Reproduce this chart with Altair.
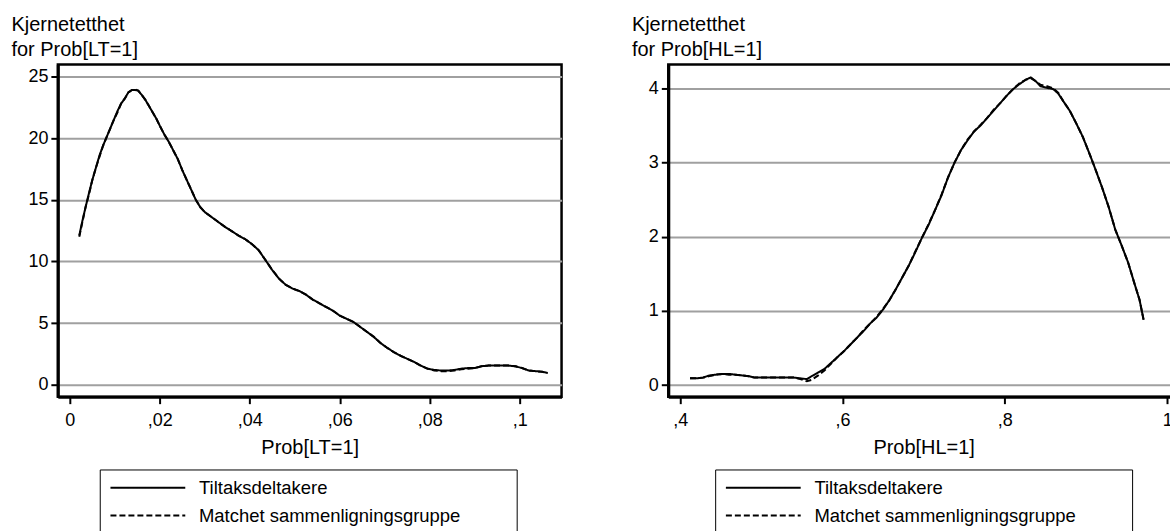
import altair as alt
import pandas as pd

FONT = "Liberation Sans"

series_names = ["Tiltaksdeltakere", "Matchet sammenligningsgruppe"]

# Kernel density of the propensity score Prob[LT=1]
lt_x = [0.0021, 0.0028, 0.0035, 0.0043, 0.0050, 0.0058, 0.0066, 0.0074, 0.0082, 0.0090,
        0.0098, 0.0106, 0.0114, 0.0122, 0.0130, 0.0138, 0.0146, 0.0152, 0.0160, 0.0168,
        0.0176, 0.0184, 0.0192, 0.0200, 0.0210, 0.0220, 0.0230, 0.0240, 0.0250, 0.0260,
        0.0270, 0.0280, 0.0290, 0.0300, 0.0315, 0.0330, 0.0345, 0.0360, 0.0375, 0.0390,
        0.0405, 0.0420, 0.0435, 0.0450, 0.0465, 0.0480, 0.0495, 0.0510, 0.0525, 0.0540,
        0.0555, 0.0570, 0.0585, 0.0600, 0.0615, 0.0630, 0.0645, 0.0660, 0.0675, 0.0690,
        0.0705, 0.0720, 0.0735, 0.0750, 0.0765, 0.0780, 0.0795, 0.0810, 0.0825, 0.0840,
        0.0855, 0.0870, 0.0885, 0.0900, 0.0915, 0.0930, 0.0945, 0.0960, 0.0975, 0.0990,
        0.1005, 0.1020, 0.1035, 0.1050, 0.1062]
lt_treated = [12.1, 13.3, 14.4, 15.6, 16.6, 17.6, 18.6, 19.4, 20.1, 20.8,
              21.5, 22.2, 22.8, 23.2, 23.7, 23.9, 23.9, 23.85, 23.5, 23.1,
              22.6, 22.1, 21.6, 21.0, 20.3, 19.7, 19.0, 18.3, 17.4, 16.6,
              15.8, 15.0, 14.4, 14.0, 13.6, 13.2, 12.8, 12.45, 12.1, 11.8,
              11.4, 10.9, 10.1, 9.3, 8.6, 8.1, 7.8, 7.6, 7.3, 6.9,
              6.6, 6.3, 6.0, 5.6, 5.35, 5.1, 4.7, 4.3, 3.9, 3.4,
              3.0, 2.65, 2.35, 2.1, 1.85, 1.55, 1.3, 1.2, 1.15, 1.15,
              1.2, 1.3, 1.35, 1.35, 1.5, 1.55, 1.55, 1.55, 1.55, 1.5,
              1.35, 1.15, 1.1, 1.05, 0.95]
lt_matched = [12.0, 13.2, 14.4, 15.5, 16.6, 17.6, 18.5, 19.4, 20.1, 20.8,
              21.5, 22.1, 22.8, 23.2, 23.7, 23.9, 23.95, 23.85, 23.5, 23.1,
              22.6, 22.1, 21.6, 21.0, 20.3, 19.7, 19.0, 18.3, 17.4, 16.6,
              15.8, 15.0, 14.4, 14.0, 13.6, 13.2, 12.8, 12.45, 12.1, 11.8,
              11.4, 10.9, 10.1, 9.3, 8.6, 8.1, 7.8, 7.6, 7.3, 6.9,
              6.6, 6.3, 6.0, 5.6, 5.35, 5.1, 4.7, 4.3, 3.9, 3.4,
              3.0, 2.65, 2.35, 2.1, 1.85, 1.55, 1.3, 1.15, 1.1, 1.1,
              1.15, 1.25, 1.3, 1.35, 1.5, 1.55, 1.55, 1.55, 1.55, 1.5,
              1.35, 1.15, 1.1, 1.05, 0.95]

# Kernel density of the propensity score Prob[HL=1]
hl_x = [0.412, 0.420, 0.428, 0.436, 0.444, 0.452, 0.460, 0.468, 0.476, 0.484,
        0.492, 0.500, 0.510, 0.520, 0.530, 0.540, 0.548, 0.556, 0.562, 0.570,
        0.578, 0.586, 0.594, 0.602, 0.610, 0.618, 0.626, 0.634, 0.642, 0.650,
        0.658, 0.666, 0.674, 0.682, 0.690, 0.698, 0.706, 0.714, 0.722, 0.730,
        0.738, 0.746, 0.754, 0.762, 0.770, 0.778, 0.786, 0.794, 0.802, 0.810,
        0.818, 0.826, 0.832, 0.838, 0.844, 0.852, 0.860, 0.866, 0.872, 0.880,
        0.888, 0.896, 0.904, 0.912, 0.920, 0.928, 0.936, 0.944, 0.952, 0.960,
        0.966, 0.971]
hl_treated = [0.09, 0.09, 0.10, 0.13, 0.14, 0.15, 0.15, 0.14, 0.13, 0.12,
              0.10, 0.10, 0.10, 0.10, 0.10, 0.10, 0.09, 0.08, 0.12, 0.17,
              0.22, 0.30, 0.38, 0.46, 0.55, 0.64, 0.73, 0.83, 0.91, 1.02,
              1.15, 1.30, 1.46, 1.62, 1.80, 1.99, 2.16, 2.36, 2.56, 2.80,
              3.00, 3.17, 3.30, 3.42, 3.50, 3.60, 3.70, 3.80, 3.90, 3.99,
              4.06, 4.12, 4.15, 4.10, 4.03, 4.01, 3.99, 3.93, 3.83, 3.70,
              3.53, 3.35, 3.13, 2.90, 2.66, 2.40, 2.10, 1.88, 1.65, 1.36,
              1.15, 0.88]
hl_matched = [0.09, 0.09, 0.10, 0.12, 0.14, 0.15, 0.14, 0.14, 0.13, 0.12,
              0.10, 0.10, 0.10, 0.10, 0.10, 0.10, 0.08, 0.05, 0.07, 0.13,
              0.20, 0.29, 0.38, 0.46, 0.55, 0.64, 0.74, 0.83, 0.92, 1.03,
              1.15, 1.30, 1.46, 1.62, 1.81, 1.99, 2.17, 2.36, 2.57, 2.80,
              3.00, 3.17, 3.31, 3.42, 3.51, 3.60, 3.71, 3.80, 3.90, 3.99,
              4.07, 4.12, 4.14, 4.10, 4.05, 4.03, 4.00, 3.94, 3.83, 3.70,
              3.53, 3.35, 3.13, 2.90, 2.66, 2.40, 2.10, 1.88, 1.65, 1.36,
              1.15, 0.88]


def long_frame(xs, treated, matched):
    rows = [{"p": x, "d": v, "series": series_names[0]} for x, v in zip(xs, treated)]
    rows += [{"p": x, "d": v, "series": series_names[1]} for x, v in zip(xs, matched)]
    return pd.DataFrame(rows)


def panel(df, x_domain, x_ticks, y_domain, y_ticks, x_title, y_title,
          width, y_title_x, legend_x):
    return alt.Chart(df).mark_line(color="black", strokeWidth=2).encode(
        x=alt.X("p:Q",
                scale=alt.Scale(domain=x_domain, nice=False, zero=False),
                axis=alt.Axis(values=x_ticks, grid=False, title=x_title,
                              labelExpr="replace(format(datum.value, '~g'), '0.', ',')",
                              labelPadding=8, titleY=57, titleBaseline="alphabetic",
                              domainWidth=3)),
        y=alt.Y("d:Q",
                scale=alt.Scale(domain=y_domain, nice=False, zero=False),
                axis=alt.Axis(values=y_ticks, grid=True, title=y_title,
                              titleAngle=0, titleAlign="left", titleBaseline="alphabetic",
                              titleX=y_title_x, titleY=-34, titleLineHeight=25,
                              titleFontSize=20, labelPadding=3, domainWidth=3)),
        strokeDash=alt.StrokeDash(
            "series:N",
            scale=alt.Scale(domain=series_names, range=[[1, 0], [6, 3]]),
            legend=alt.Legend(
                orient="none", legendX=legend_x, legendY=406,
                title="\u2002", titleOrient="right", titlePadding=47,
                titleFontSize=18,
                direction="vertical",
                symbolType="M-5,0H5", symbolSize=225, symbolStrokeWidth=2,
                symbolStrokeColor="black", symbolOffset=30,
                labelOffset=42, labelFont=FONT, labelFontSize=18.5,
                labelColor="black", labelLimit=0,
                strokeColor="black", fillColor="white",
                padding=9, rowPadding=9)),
    ).properties(width=width, height=333)


left = panel(long_frame(lt_x, lt_treated, lt_matched),
             [-0.00266, 0.1093], [0, 0.02, 0.04, 0.06, 0.08, 0.1],
             [-0.97, 25.97], [0, 5, 10, 15, 20, 25],
             "Prob[LT=1]", ["Kjernetetthet", "for Prob[LT=1]"],
             505, -47, 42)

right = panel(long_frame(hl_x, hl_treated, hl_matched),
              [0.38525, 1.0146], [0.4, 0.6, 0.8, 1.0],
              [-0.157, 4.324], [0, 1, 2, 3, 4],
              "Prob[HL=1]", ["Kjernetetthet", "for Prob[HL=1]"],
              512, -37, 47)

chart = alt.hconcat(left, right, spacing=107, bounds="flush").resolve_scale(
    strokeDash="independent"
).resolve_legend(
    strokeDash="independent"
).properties(
    padding={"left": 9, "top": 12, "right": -11, "bottom": -3},
    background="white",
).configure(
    font=FONT,
).configure_view(
    stroke="black", strokeWidth=2.5,
).configure_axis(
    labelFont=FONT, labelFontSize=18, labelColor="black",
    titleFont=FONT, titleFontSize=20, titleFontWeight="normal", titleColor="black",
    domainColor="black", tickColor="black", tickSize=7, tickWidth=2,
    gridColor="#a0a0a0", gridWidth=2,
)

chart.save("out.html", embed_options={"renderer": "svg", "actions": False})
